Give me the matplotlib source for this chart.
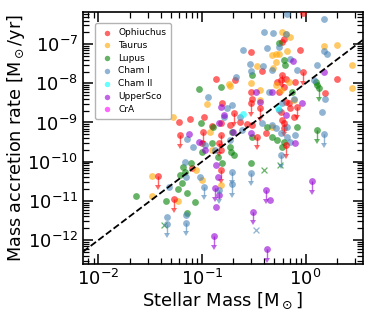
import numpy as np
import matplotlib
matplotlib.use('Agg')
import matplotlib.pyplot as plt

# values are log10(M / Msun) and log10(Mdot / Msun yr^-1)

oph_logm = [-0.02, -0.21, -0.23, -0.53, -0.05, -0.42, -0.86, -0.68, 0.30, 0.19,
            -0.24, -0.28, -0.19, -0.10, -0.21, -0.26, -0.53, -0.52, -0.81, -0.19,
            -0.16, -0.15, -0.24, -0.23, -0.11, -0.21, -1.12, -1.22, -0.98, -0.63,
            -0.57, -0.52, -0.38, -0.82, -0.73, -0.82, -1.10, -1.00, -0.90]
oph_logacc = [-6.20, -6.86, -6.94, -7.20, -7.15, -7.68, -7.89, -7.92, -7.90, -8.26,
              -7.92, -7.96, -7.88, -7.96, -8.09, -8.22, -8.22, -8.39, -8.51, -8.47,
              -8.51, -8.62, -8.73, -8.94, -8.85, -9.15, -8.90, -8.98, -8.87, -8.98,
              -9.04, -9.07, -9.28, -9.02, -9.07, -9.70, -10.17, -9.53, -9.09]
oph_lim_logm = [-1.42, -1.27, -1.21, -0.99, -0.82, -0.69, -0.53, -0.44, -0.47, -0.23,
                -0.02, -0.08, -0.21, -0.19, -0.84, -0.82]
oph_lim_logacc = [-10.37, -10.96, -9.32, -9.24, -9.32, -8.77, -8.51, -8.64, -9.36, -7.79,
                  -7.71, -8.60, -9.02, -9.58, -9.53, -10.21]

tau_logm = [-0.23, -0.19, -0.15, -0.29, -0.26, -0.32, -0.18, 0.18, 0.30, 0.45,
            0.45, -0.29, -0.31, -0.47, -0.16, -0.29, -0.24, -0.53, -0.44, -0.74,
            -0.73, -0.95, -1.28, -1.48, -1.48, -1.23, -0.92, -0.90, -1.06, -0.82,
            -0.32, -0.11, -1.00, -0.44]
tau_logacc = [-6.69, -6.74, -6.81, -7.24, -7.24, -7.28, -7.17, -7.04, -7.03, -7.54,
              -8.11, -7.45, -7.62, -7.56, -7.96, -8.05, -8.17, -7.99, -8.17, -8.02,
              -8.07, -8.53, -8.87, -10.37, -10.88, -11.01, -9.24, -9.70, -10.21, -10.60,
              -9.11, -8.43, -10.47, -8.43]

lup_logm = [-0.26, -0.21, -0.20, -0.52, -0.82, -1.03, -0.13, 0.11, 0.10, -1.01,
            -0.89, -0.37, -0.71, -0.08, -0.32, -0.28, -0.21, -0.90, -0.73, -0.72,
            -0.69, -1.00, -0.85, -1.11, -1.18, -0.53, -1.64, -1.35, -1.21, -1.19,
            -1.23, -1.07, -1.14, -1.14, -0.81, -0.52, -0.23, -1.16]
lup_logacc = [-6.98, -7.41, -7.54, -7.79, -8.10, -8.15, -8.22, -8.05, -7.96, -9.01,
              -9.11, -9.11, -9.24, -9.11, -9.36, -9.45, -9.49, -9.52, -9.62, -9.75,
              -9.83, -9.75, -9.87, -10.04, -10.13, -10.03, -10.88, -11.00, -10.34, -10.55,
              -10.70, -11.02, -10.81, -11.32, -10.04, -9.38, -9.62, -10.26]
lup_lim_logm = [0.13, 0.11]
lup_lim_logacc = [-8.13, -9.19]
lup_x_logm = [-1.37, -0.40, -0.25]
lup_x_logacc = [-11.62, -10.21, -10.09]

cha1_logm = [-0.18, 0.18, -0.31, -0.19, -0.60, -0.26, 0.18, 0.21, -0.15, -0.54,
             -0.41, -0.53, -0.32, -0.08, -0.67, 0.11, 0.08, -0.94, -0.35, -0.11,
             0.19, 0.16, -0.71, -0.63, -0.42, -0.32, -0.18, -0.29, -0.24, -0.10,
             -0.18, -0.15, -1.09, -0.97, -0.87, -0.73, -1.14, -1.16, -1.32, -1.15,
             -1.02, -0.79, -0.76, -0.61, -0.23, -0.26, -0.40, -0.37, -1.34, -1.15]
cha1_logacc = [-6.22, -6.35, -6.71, -6.73, -7.14, -7.07, -7.17, -7.24, -7.37, -7.51,
               -7.56, -7.68, -7.66, -7.65, -7.85, -7.54, -7.92, -8.34, -8.22, -8.39,
               -8.39, -8.73, -8.56, -8.85, -9.02, -9.07, -9.11, -9.15, -9.28, -9.32,
               -9.36, -9.49, -9.62, -9.58, -9.69, -9.45, -9.41, -10.00, -10.64, -10.40,
               -10.38, -8.85, -8.64, -9.19, -8.51, -8.67, -6.69, -7.09, -11.40, -11.36]
cha1_lim_logm = [-1.34, -1.15, -0.98, -0.84, -0.71, -0.71, -0.53, -0.24, 0.18]
cha1_lim_logacc = [-11.59, -11.56, -10.64, -10.72, -10.26, -10.57, -10.28, -9.83, -9.30]
cha1_x_logm = [-0.48]
cha1_x_logacc = [-11.74]

cha2_logm = [-0.60, -0.27]
cha2_logacc = [-8.79, -8.64]

usco_logm = [-0.12, 0.18, -0.48, -0.32, -0.03, -0.44, -0.82, -0.79, -0.19, -0.84,
             -0.70, -0.53, -1.13, -1.03, -0.97, -0.10, -0.86, -0.34, -0.86, -0.84,
             -0.85]
usco_logacc = [-7.43, -7.71, -8.22, -8.22, -8.50, -8.47, -8.60, -8.81, -8.81, -9.02,
               -9.24, -9.28, -9.30, -9.49, -9.70, -9.53, -10.09, -10.98, -11.15, -10.85,
               -10.38]
usco_lim_logm = [-0.88, -0.38, -0.51, -0.37, 0.06, -0.87]
usco_lim_logacc = [-11.90, -10.72, -11.28, -12.24, -10.49, -10.68]

cra_logm = []
cra_logacc = []

# Mdot = norm * M^slope
line_norm = 1e-8
line_slope = 2.0

regions = [
    ('Ophiuchus', 'red', oph_logm, oph_logacc, oph_lim_logm, oph_lim_logacc, [], []),
    ('Taurus', 'orange', tau_logm, tau_logacc, [], [], [], []),
    ('Lupus', 'green', lup_logm, lup_logacc, lup_lim_logm, lup_lim_logacc, lup_x_logm, lup_x_logacc),
    ('Cham I', 'steelblue', cha1_logm, cha1_logacc, cha1_lim_logm, cha1_lim_logacc, cha1_x_logm, cha1_x_logacc),
    ('Cham II', 'cyan', cha2_logm, cha2_logacc, [], [], [], []),
    ('UpperSco', 'darkviolet', usco_logm, usco_logacc, usco_lim_logm, usco_lim_logacc, [], []),
    ('CrA', 'magenta', cra_logm, cra_logacc, [], [], [], []),
]

plt.rcParams['font.family'] = 'DejaVu Sans'
plt.rcParams['mathtext.default'] = 'regular'

fig = plt.figure(figsize=(3.74, 3.2), dpi=100)
ax = fig.add_axes([0.222, 0.175, 0.748, 0.7875])

alpha = 0.6
lim_len = 0.22  # arrow length in dex

for name, col, lm, la, llm, lla, xm, xa in regions:
    ax.scatter(10 ** np.array(lm, dtype=float), 10 ** np.array(la, dtype=float),
               s=24, color=col, alpha=alpha, lw=0, label=name, zorder=3)
    if len(llm):
        ym = 10 ** np.array(lla)
        ax.errorbar(10 ** np.array(llm), ym, yerr=ym * (1 - 10 ** -lim_len),
                    uplims=True, fmt='o', ms=4.9, mew=0, color=col, alpha=alpha,
                    elinewidth=1.0, capsize=2.2, zorder=3)
    if len(xm):
        ax.scatter(10 ** np.array(xm), 10 ** np.array(xa), marker='x', s=18,
                   color=col, alpha=alpha, lw=0.9, zorder=3)

ax.set_xscale('log')
ax.set_yscale('log')
ax.set_xlim(0.0071, 3.57)
ax.set_ylim(2.45e-13, 6.6e-7)

xx = np.array(ax.get_xlim())
ax.plot(xx, line_norm * xx ** line_slope, 'k--', lw=1.3, zorder=4)

ax.set_xlabel(r'Stellar Mass [M$_\odot$]', fontsize=13, labelpad=1)
ax.set_ylabel(r'Mass accretion rate [M$_\odot$/yr]', fontsize=12.7, labelpad=0)
ax.tick_params(which='both', direction='in', top=True, right=True, labelsize=13)
ax.tick_params(which='major', length=7, width=1.1)
ax.tick_params(which='minor', length=4, width=0.9)
for sp in ax.spines.values():
    sp.set_linewidth(1.2)

leg = ax.legend(loc='upper left', fontsize=6.5, scatterpoints=1, markerscale=0.8,
                labelspacing=0.42, handlelength=1.5, handletextpad=0.5,
                borderpad=0.55, borderaxespad=0, bbox_to_anchor=(0.043, 0.956),
                framealpha=1, fancybox=True)
leg.get_frame().set_edgecolor('0.7')

fig.savefig('out.png', dpi=100)
